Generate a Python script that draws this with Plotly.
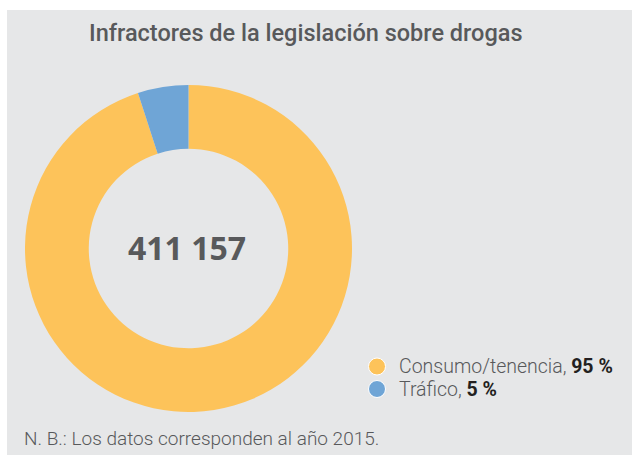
import plotly.graph_objects as go

# datos
categorias = ['Consumo/tenencia', 'Tráfico']
porcentajes = [95, 5]
colores = ['#FDC35A', '#6FA5D6']
total = '411 157'
titulo = 'Infractores de la legislación sobre drogas'
nota = 'N. B.: Los datos corresponden al año 2015.'

W, H = 632, 455
gris = '#58595B'

fig = go.Figure()

fig.add_trace(go.Pie(
    labels=categorias, values=porcentajes, hole=0.61,
    sort=False, direction='clockwise', rotation=0,
    marker=dict(colors=colores, line=dict(color='white', width=0)),
    textinfo='none', hoverinfo='label+percent', showlegend=False,
    domain=dict(x=[25 / W, 352 / W], y=[1 - 412 / H, 1 - 85 / H]),
))

# leyenda: circulos + texto
formas = [dict(type='rect', xref='paper', yref='paper', x0=7 / W, x1=1, y0=0, y1=1 - 10 / H,
               fillcolor='#E6E7E8', line=dict(width=0), layer='below')]
notas = []
for i, (cat, pct, col) in enumerate(zip(categorias, porcentajes, colores)):
    yc = 366.5 + 22.5 * i
    formas.append(dict(type='circle', xref='paper', yref='paper',
                       x0=(377 - 8.5) / W, x1=(377 + 8.5) / W,
                       y0=1 - (yc + 8.5) / H, y1=1 - (yc - 8.5) / H,
                       fillcolor=col, line=dict(color='white', width=1)))
    notas.append(dict(text=f"{cat}, <span style='color:#231F20'><b>{pct} %</b></span>",
                      x=397 / W, y=1 - yc / H, xref='paper', yref='paper', showarrow=False,
                      xanchor='left', yanchor='middle',
                      font=dict(family='Roboto', size=19.5, color=gris, weight=300)))

fig.update_layout(
    width=W, height=H,
    margin=dict(l=0, r=0, t=0, b=0),
    paper_bgcolor='white', plot_bgcolor='rgba(0,0,0,0)',
    xaxis=dict(visible=False), yaxis=dict(visible=False),
    showlegend=False,
    shapes=formas,
    annotations=[
        dict(text=titulo, x=306 / W, y=1 - 33 / H, xref='paper', yref='paper', showarrow=False,
             xanchor='center', yanchor='middle',
             font=dict(family='Roboto', size=23.5, color=gris, weight=500)),
        dict(text=f'<b>{total}</b>', x=187 / W, y=1 - 248 / H, xref='paper', yref='paper', showarrow=False,
             xanchor='center', yanchor='middle',
             font=dict(family='Open Sans', size=32, color=gris)),
        dict(text=nota, x=22 / W, y=1 - 438 / H, xref='paper', yref='paper', showarrow=False,
             xanchor='left', yanchor='middle',
             font=dict(family='Roboto', size=19, color=gris, weight=300)),
    ] + notas,
)

fig.write_html('out.html', config={'displayModeBar': False},
               post_script="document.body.style.margin='0';")
